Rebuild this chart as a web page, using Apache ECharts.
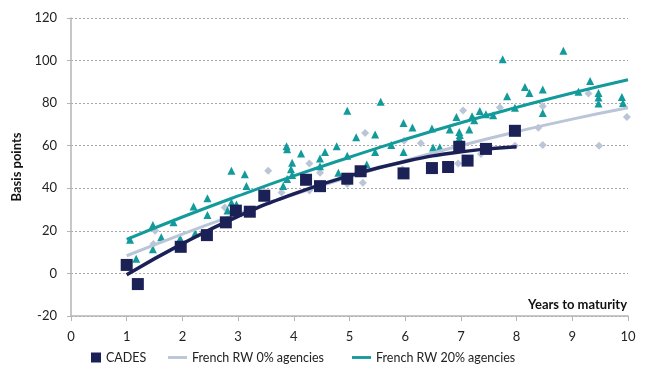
<!DOCTYPE html>
<html>
<head>
<meta charset="utf-8">
<script src="https://cdn.jsdelivr.net/npm/echarts@6/dist/echarts.min.js"></script>
<style>
  html, body { margin: 0; padding: 0; background: #ffffff; }
  #chart { width: 649px; height: 376px; }
</style>
</head>
<body>
<div id="chart"></div>
<script>
// Spread over the curve, in basis points, by years to maturity
const cadesPoints = [
  [1.0, 4], [1.2, -5], [1.97, 12.5], [2.44, 18], [2.78, 24], [2.96, 29.5],
  [3.21, 29], [3.47, 36.5], [4.22, 44], [4.47, 41], [4.96, 44.5], [5.2, 48],
  [5.97, 47], [6.48, 49.5], [6.77, 50], [6.97, 59.5], [7.12, 53], [7.45, 58.5],
  [7.97, 67]
];

const rw0Points = [
  [1.48, 13.8], [1.51, 20], [2.76, 31], [3.54, 48.2], [3.78, 38], [4.28, 51.7],
  [4.28, 39], [4.47, 47.3], [4.96, 42], [5.24, 42.6], [5.28, 66], [5.95, 49],
  [5.98, 62.3], [6.28, 61.1], [6.95, 51.7], [7.04, 76.6], [7.36, 56.1], [7.7, 78],
  [7.97, 60], [8.39, 68.4], [8.47, 78.5], [8.47, 60.3], [9.29, 84.5], [9.48, 60],
  [9.98, 73.5]
];

const rw20Points = [
  [1.06, 15.8], [1.17, 6.9], [1.47, 22.8], [1.47, 11.4], [1.62, 17], [1.84, 24],
  [1.96, 16.4], [2.2, 31.4], [2.23, 18.9], [2.45, 35.3], [2.45, 27.5], [2.81, 29.6],
  [2.88, 48.2], [2.88, 33.3], [2.97, 32.4], [3.12, 46.6], [3.15, 41.1], [3.81, 41.1],
  [3.87, 59.8], [3.88, 58.3], [3.88, 44.4], [3.95, 48.9], [3.97, 46.2], [3.97, 52],
  [4.13, 56.4], [4.47, 54], [4.47, 50.4], [4.56, 57.1], [4.77, 59.8], [4.8, 47.3],
  [4.96, 76.4], [4.96, 55.3], [5.12, 64], [5.31, 51.2], [5.46, 65.3], [5.46, 57.1],
  [5.56, 80.6], [5.75, 60.3], [5.97, 70.7], [5.97, 57.1], [6.13, 68.6], [6.48, 68.1],
  [6.5, 59.2], [6.62, 59.3], [6.8, 67.6], [6.92, 73.5], [6.97, 66.5], [6.98, 65],
  [6.97, 63.4], [7.15, 67.6], [7.2, 73.9], [7.24, 72], [7.34, 76.3], [7.45, 74.8],
  [7.58, 74.3], [7.75, 100.6], [7.83, 83.2], [7.97, 77.8], [8.15, 87.6], [8.23, 84.8],
  [8.47, 86.4], [8.47, 75.4], [8.84, 104.6], [9.11, 85.3], [9.32, 90.4], [9.47, 84.8],
  [9.47, 82.6], [9.47, 79.8], [9.89, 82.9], [9.91, 80.1]
];

// Fitted trend curves
const cadesTrend = [[1, -0.6], [2, 14], [3, 26.8], [4, 37.4], [5, 45.9], [6, 52.6], [7, 57.1], [8, 59.5]];
const rw0Trend = [[1, 8.3], [2, 18.5], [3, 28], [4, 37], [5, 45.3], [6, 53], [7, 60.1], [8, 66.6], [9, 72.5], [10, 77.8]];
const rw20Trend = [[1, 16], [2, 26.5], [3, 36.4], [4, 45.8], [5, 54.6], [6, 63], [7, 70.8], [8, 78], [9, 84.8], [10, 91]];

const xTicks = { min: 0, max: 10, step: 1 };
const yTicks = { min: -20, max: 120, step: 20 };

const NAVY = '#1b2157';
const GREY = '#bac5d7';
const TEAL = '#139a9b';
const FONT = 'Lato';

const chart = echarts.init(document.getElementById('chart'), null, { renderer: 'canvas' });

const linePath = 'path://M0,0 L20,0 L20,3 L0,3 Z';

chart.setOption({
  animation: false,
  backgroundColor: '#ffffff',
  textStyle: { fontFamily: FONT },
  grid: { left: 71, right: 21, top: 18, bottom: 60, containLabel: false },
  legend: [
    {
      left: 91, top: 351, padding: 0,
      itemWidth: 10, itemHeight: 10,
      textStyle: { fontFamily: FONT, fontSize: 12.5, color: '#222' },
      data: [{ name: 'CADES', icon: 'rect' }]
    },
    {
      left: 168, top: 351, padding: 0,
      itemWidth: 19, itemHeight: 3, itemGap: 28,
      textStyle: { fontFamily: FONT, fontSize: 12.5, color: '#222' },
      data: [
        { name: 'French RW 0% agencies', icon: linePath },
        { name: 'French RW 20% agencies', icon: linePath }
      ]
    }
  ],
  xAxis: {
    type: 'value',
    min: xTicks.min, max: xTicks.max, interval: xTicks.step,
    name: 'Years to maturity',
    nameLocation: 'end',
    nameGap: -1,
    nameTextStyle: {
      fontFamily: FONT, fontWeight: 'bold', fontSize: 13, color: '#111',
      align: 'right', verticalAlign: 'bottom', padding: [0, 0, 5, 0]
    },
    axisLine: { show: true, onZero: false, lineStyle: { color: '#b5b5b5', width: 1.5 } },
    axisTick: { show: true, length: 5, lineStyle: { color: '#b5b5b5' } },
    axisLabel: { fontFamily: FONT, fontSize: 13, color: '#222', margin: 14 },
    splitLine: { show: false }
  },
  yAxis: {
    type: 'value',
    min: yTicks.min, max: yTicks.max, interval: yTicks.step,
    name: 'Basis points',
    nameLocation: 'middle',
    nameGap: 46,
    nameTextStyle: { fontFamily: FONT, fontWeight: 'bold', fontSize: 13, color: '#111' },
    axisLine: { show: true, onZero: false, lineStyle: { color: '#b5b5b5', width: 1.5 } },
    axisTick: { show: true, length: 4, lineStyle: { color: '#b5b5b5' } },
    axisLabel: { fontFamily: FONT, fontSize: 13, color: '#222', margin: 14 },
    splitLine: { show: true, lineStyle: { color: '#a6a6a6', type: [2, 2], width: 1 } }
  },
  series: [
    {
      name: 'French RW 0% agencies', type: 'scatter', data: rw0Points,
      symbol: 'diamond', symbolSize: 8, itemStyle: { color: GREY, opacity: 1 }, z: 2
    },
    {
      name: 'French RW 20% agencies', type: 'scatter', data: rw20Points,
      symbol: 'triangle', symbolSize: 8, itemStyle: { color: TEAL, opacity: 1 }, z: 2
    },
    {
      name: 'French RW 0% agencies', type: 'line', data: rw0Trend,
      smooth: true, showSymbol: false, lineStyle: { color: GREY, width: 3 },
      itemStyle: { color: GREY }, z: 3
    },
    {
      name: 'French RW 20% agencies', type: 'line', data: rw20Trend,
      smooth: true, showSymbol: false, lineStyle: { color: TEAL, width: 3 },
      itemStyle: { color: TEAL }, z: 3
    },
    {
      name: 'CADES', type: 'scatter', data: cadesPoints,
      symbol: 'rect', symbolSize: 12, itemStyle: { color: NAVY, opacity: 1 }, z: 4
    },
    {
      name: 'CADES', type: 'line', data: cadesTrend,
      smooth: true, showSymbol: false, lineStyle: { color: NAVY, width: 3.5 },
      itemStyle: { color: NAVY }, z: 5
    }
  ]
});
</script>
</body>
</html>
